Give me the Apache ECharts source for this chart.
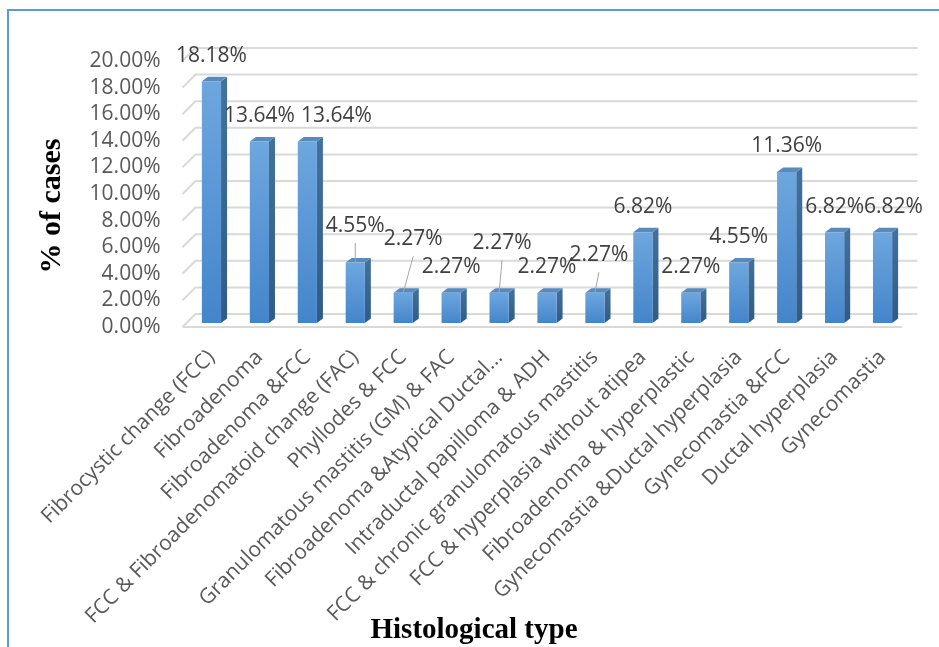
<!DOCTYPE html>
<html>
<head>
<meta charset="utf-8">
<script src="https://cdn.jsdelivr.net/npm/echarts@6/dist/echarts.min.js"></script>
<style>
  html, body { margin: 0; padding: 0; background: #fff; }
  #chart { width: 939px; height: 647px; }
</style>
</head>
<body>
<div id="chart"></div>
<script>
// Histological types and share of cases (%)
const categories = [
  'Fibrocystic change (FCC)',
  'Fibroadenoma',
  'Fibroadenoma &FCC',
  'FCC & Fibroadenomatoid change (FAC)',
  'Phyllodes & FCC',
  'Granulomatous mastitis (GM) & FAC',
  'Fibroadenoma &Atypical Ductal...',
  'Intraductal papilloma & ADH',
  'FCC & chronic granulomatous mastitis',
  'FCC & hyperplasia without atipea',
  'Fibroadenoma & hyperplastic',
  'Gynecomastia &Ductal hyperplasia',
  'Gynecomastia &FCC',
  'Ductal hyperplasia',
  'Gynecomastia'
];
const percentCases = [18.18, 13.64, 13.64, 4.55, 2.27, 2.27, 2.27, 2.27, 2.27, 6.82, 2.27, 4.55, 11.36, 6.82, 6.82];
const yTicks = [0, 2, 4, 6, 8, 10, 12, 14, 16, 18, 20];

// Label nudges [dx, dy] for crowded value labels; the ones lifted get a leader line
const labelNudge = [
  [0, 0], [0, 0], [29, 0], [0, -11], [10, -28], [0, 0], [3, -24], [0, 0],
  [4, -12], [0, 0], [0, 0], [0, 0], [0, 0], [0, 0], [11, 0]
];

const chart = echarts.init(document.getElementById('chart'), null, { renderer: 'canvas' });

// 3D depth offsets of the chart floor/walls relative to the bar plane
const FRONT = [-5, 4];
const BACK = [8, -9];
const BAR_DEPTH = [6, -4.5];

function renderWall(params, api) {
  const v = api.value(1);
  const y = api.coord([0, v])[1];
  const cs = params.coordSys;
  const xL = cs.x, xR = cs.x + cs.width;
  const children = [{
    type: 'polyline',
    shape: { points: [[xL + FRONT[0], y + FRONT[1]], [xL + BACK[0], y + BACK[1]], [xR + BACK[0] + 3, y + BACK[1]]] },
    style: { stroke: '#d9d9d9', lineWidth: 2, fill: null }
  }];
  if (v === 0) {
    children.push({
      type: 'line',
      shape: { x1: xL + FRONT[0], y1: y + FRONT[1], x2: xR + FRONT[0] + 0.5, y2: y + FRONT[1] },
      style: { stroke: '#d9d9d9', lineWidth: 2 }
    });
  }
  return { type: 'group', children };
}

function renderBar(params, api) {
  const idx = api.value(0);
  const v = api.value(1);
  const top = api.coord([idx, v]);
  const base = api.coord([idx, 0]);
  const band = api.size([1, 0])[0];
  const w = band * 0.4;
  const x0 = top[0] - w / 2, x1 = top[0] + w / 2;
  const yt = top[1], yb = base[1];
  const [dx, dy] = BAR_DEPTH;
  const nudge = labelNudge[params.dataIndex];
  const lx = top[0] + nudge[0];
  const ly = yt - 25.5 + nudge[1];
  const children = [
    {
      type: 'polygon',
      shape: { points: [[x1, yb], [x1 + dx, yb + dy], [x1 + dx, yt + dy], [x1, yt]] },
      style: {
        fill: new echarts.graphic.LinearGradient(0, 0, 0, 1, [
          { offset: 0, color: '#42719f' }, { offset: 1, color: '#2e5b8a' }
        ])
      }
    },
    {
      type: 'polygon',
      shape: { points: [[x0, yt], [x1, yt], [x1 + dx, yt + dy], [x0 + dx, yt + dy]] },
      style: { fill: '#5a8abb' }
    },
    {
      type: 'rect',
      shape: { x: x0, y: yt, width: w, height: yb - yt },
      style: {
        fill: new echarts.graphic.LinearGradient(0, 0, 0, 1, [
          { offset: 0, color: '#6ea7de' }, { offset: 1, color: '#4485ca' }
        ])
      }
    },
    {
      type: 'text',
      style: {
        x: lx, y: ly,
        text: v.toFixed(2) + '%',
        fill: '#404040',
        font: '21px "Open Sans"',
        align: 'center',
        verticalAlign: 'middle'
      }
    }
  ];
  if (nudge[1] < 0) {
    children.push({
      type: 'line',
      shape: { x1: lx, y1: ly + 17, x2: top[0], y2: yt },
      style: { stroke: '#a6a6a6', lineWidth: 1 }
    });
  }
  return { type: 'group', children };
}

chart.setOption({
  animation: false,
  backgroundColor: '#ffffff',
  grid: [
    { left: 187.5, right: 32.5, top: 57, bottom: 324 },
    { left: 187.5, right: 32.5, top: 61, bottom: 320 }
  ],
  xAxis: [
    {
      gridIndex: 0,
      type: 'category',
      data: categories,
      axisLine: { show: false },
      axisTick: { show: false },
      axisLabel: {
        interval: 0,
        rotate: 45,
        margin: 31,
        color: '#595959',
        fontFamily: 'Open Sans',
        fontSize: 21
      }
    },
    { gridIndex: 1, type: 'category', data: categories, show: false }
  ],
  yAxis: [
    {
      gridIndex: 0,
      type: 'value',
      min: yTicks[0], max: yTicks[yTicks.length - 1], interval: 2,
      axisLine: { show: false }, axisTick: { show: false },
      axisLabel: { show: false }, splitLine: { show: false }
    },
    {
      gridIndex: 1,
      type: 'value',
      min: yTicks[0], max: yTicks[yTicks.length - 1], interval: 2,
      axisLine: { show: false }, axisTick: { show: false }, splitLine: { show: false },
      axisLabel: {
        margin: 27,
        color: '#595959',
        fontFamily: 'Open Sans',
        fontSize: 21,
        formatter: (val) => val.toFixed(2) + '%'
      }
    }
  ],
  graphic: [
    {
      type: 'rect',
      shape: { x: 8, y: 10, width: 1000, height: 1000 },
      style: { fill: null, stroke: '#5b9bd5', lineWidth: 2 },
      silent: true
    },
    {
      type: 'text',
      x: 52, y: 206,
      rotation: Math.PI / 2,
      style: {
        text: '% of cases',
        font: 'bold 30px "Liberation Serif"',
        fill: '#000',
        align: 'center',
        verticalAlign: 'middle'
      }
    },
    {
      type: 'text',
      x: 474, y: 631,
      style: {
        text: 'Histological type',
        font: 'bold 29px "Liberation Serif"',
        fill: '#000',
        align: 'center',
        verticalAlign: 'middle'
      }
    }
  ],
  series: [
    {
      type: 'custom',
      name: 'walls',
      xAxisIndex: 0, yAxisIndex: 0,
      renderItem: renderWall,
      data: yTicks.map(v => [0, v]),
      encode: { x: 0, y: 1 },
      z: 1,
      silent: true
    },
    {
      type: 'custom',
      name: '% of cases',
      xAxisIndex: 0, yAxisIndex: 0,
      renderItem: renderBar,
      data: percentCases.map((v, i) => [i, v]),
      encode: { x: 0, y: 1 },
      z: 5
    }
  ]
});
</script>
</body>
</html>
